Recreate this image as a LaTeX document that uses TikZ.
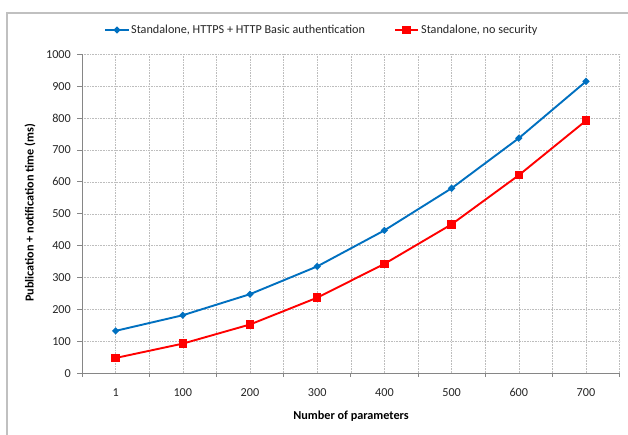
\documentclass[tikz,border=0pt]{standalone}
\usepackage{fontspec}
\setmainfont{Carlito}
\usetikzlibrary{shapes.geometric,calc}
\definecolor{seriesblue}{HTML}{0070C0}
\definecolor{seriesred}{HTML}{FF0000}
\definecolor{axisgray}{HTML}{868686}
\definecolor{gridgray}{HTML}{BDBDBD}
\definecolor{framegray}{HTML}{C0C0C0}
\tikzset{
  frameline/.style={draw=framegray, line width=1.4pt},
  axisline/.style={draw=axisgray, line width=0.9pt},
  gridline/.style={draw=gridgray, line width=0.5pt, dash pattern=on 0.8pt off 0.8pt},
  ticklabel/.style={font=\fontsize{12.2}{14}\selectfont, text=black!85, inner sep=0pt},
  axistitle/.style={font=\fontsize{12.2}{14}\selectfont\bfseries, inner sep=0pt},
  legendtext/.style={font=\fontsize{12.2}{14}\selectfont, text=black!85, anchor=west, inner sep=0pt},
  blueline/.style={draw=seriesblue, line width=1.9pt},
  redline/.style={draw=seriesred, line width=1.9pt},
  bluemark/.style={diamond, fill=seriesblue, minimum width=7.5pt, minimum height=7.5pt, inner sep=0pt},
  redmark/.style={rectangle, fill=seriesred, minimum size=8.5pt, inner sep=0pt},
}
\begin{document}
\begin{tikzpicture}[x=1pt, y=1pt]
\useasboundingbox (0,0) rectangle (628,435);
\fill[white] (0,0) rectangle (628,435);
% chart frame
\draw[frameline] (7,0) -- (7,422) -- (628,422);

% plot area: one x unit per category, y in ms
\begin{scope}[shift={(82,61.7)}, x=67.2pt, y=0.319pt]
  % grid
  \foreach \v in {100,200,...,1000}
    \draw[gridline] (0,\v) -- (8,\v);
  \foreach \c in {0.5,1,...,8}
    \draw[gridline] (\c,0) -- (\c,1000);
  % axes and ticks
  \draw[axisline] (0,1000) -- (0,0) -- (8,0);
  \foreach \v in {0,100,...,1000} {
    \draw[axisline] (0,\v) -- ++(-5pt,0);
    \node[ticklabel, anchor=east] (yl\v) at ([xshift=-11pt]0,\v) {\v};
  }
  \foreach \c in {0,...,8}
    \draw[axisline] (\c,0) -- ++(0,-4pt);
  \foreach \lab [count=\i] in {1,100,200,300,400,500,600,700}
    \node[ticklabel] (xl\i) at ([yshift=-19pt]\i-0.5,0) {\lab};

  % series: HTTPS + HTTP Basic authentication
  \foreach \v [count=\i] in {133,182,248,335,448,580,737,915}
    \coordinate (b\i) at (\i-0.5,\v);
  % series: no security
  \foreach \v [count=\i] in {48,93,153,237,343,467,621,792}
    \coordinate (r\i) at (\i-0.5,\v);

  \draw[blueline] (b1) -- (b2) -- (b3) -- (b4) -- (b5) -- (b6) -- (b7) -- (b8);
  \draw[redline] (r1) -- (r2) -- (r3) -- (r4) -- (r5) -- (r6) -- (r7) -- (r8);
  \foreach \i in {1,...,8} {
    \node[bluemark] (bm\i) at (b\i) {};
    \node[redmark] (rm\i) at (r\i) {};
  }
\end{scope}

% axis titles
\node[axistitle, rotate=90] (ytitle) at (30,222) {Publication + notification time (ms)};
\node[axistitle] (xtitle) at (351,18.5) {Number of parameters};

% legend
\coordinate (lb0) at (105,405);
\coordinate (lb1) at (129,405);
\draw[blueline] (lb0) -- (lb1);
\node[bluemark] (lbm) at ($(lb0)!0.5!(lb1)$) {};
\node[legendtext] (lbt) at (131,405) {Standalone, HTTPS + HTTP Basic authentication};
\coordinate (lr0) at (395,405);
\coordinate (lr1) at (418,405);
\draw[redline] (lr0) -- (lr1);
\node[redmark] (lrm) at ($(lr0)!0.5!(lr1)$) {};
\node[legendtext] (lrt) at (421,405) {Standalone, no security};
\end{tikzpicture}
\end{document}
